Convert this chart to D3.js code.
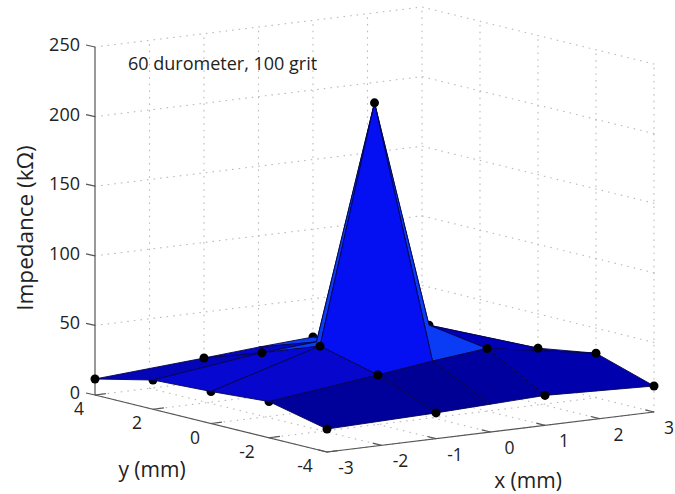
<!DOCTYPE html>
<html><head><meta charset="utf-8">
<script src="https://cdn.jsdelivr.net/npm/d3@7/dist/d3.min.js"></script>
<style>html,body{margin:0;padding:0;background:#fff}svg{display:block}text{font-family:"Open Sans",Lato,sans-serif;fill:#222}</style>
</head><body><svg id="c" width="675" height="494"></svg>
<script>
const xValues=[-3,-1,0,1,3];
const yValues=[4,2,0,-2,-4];
const zValues=[
 [11.5,17,20,22.5,21],
 [21,31,34,25,20],
 [23,46,216,51.5,25.4],
 [26,35.5,40.7,45,32],
 [16.5,18.5,20,21.5,18.7]];
// 0 = no marker, 1 = behind the surface, 2 = in front of it
const markerLayer=[
 [2,2,0,1,1],
 [1,2,0,1,1],
 [1,2,2,1,2],
 [1,2,0,2,2],
 [2,2,0,2,2]];
// rows from y=4 to y=-4, columns from x=-3 to x=3
const faceShades=[
 ["#0505b8","#0606c8","#0a3cf0","#0a48f4"],
 ["#0707d2","#0a3ef2","#0a44f2","#0a48f4"],
 ["#0606cc","#0510f2","#0a3cf6","#0000b8"],
 ["#00009a","#000094","#00009e","#0000ac"]];
const xTicks=[-3,-2,-1,0,1,2,3];
const yTicks=[4,2,0,-2,-4];
const zTicks=[0,50,100,150,200,250];
const labels={z:"Impedance (kΩ)",x:"x (mm)",y:"y (mm)",note:"60 durometer, 100 grit"};

const px=d3.scaleLinear().domain([-3,3]).range([0,327]);
const pxy=d3.scaleLinear().domain([-3,3]).range([0,-40]);
const py=d3.scaleLinear().domain([4,-4]).range([0,232]);
const pyy=d3.scaleLinear().domain([4,-4]).range([0,57]);
const pz=d3.scaleLinear().domain([0,250]).range([0,-348]);
const P=(x,y,z)=>[95+px(x)+py(y),395+pxy(x)+pyy(y)+pz(z)];
const svg=d3.select("#c");
const line=d3.line();
const path=pts=>svg.append("path").attr("d",line(pts)).attr("fill","none");
const grid=pts=>path(pts).attr("stroke","#bcbcbc").attr("stroke-width",1.2).attr("stroke-dasharray","0.6 6").attr("stroke-linecap","round");
zTicks.slice(1).forEach(z=>{grid([P(-3,4,z),P(3,4,z),P(3,-4,z)]);});
xTicks.slice(1).forEach(x=>grid([P(x,4,0),P(x,4,250)]));
yTicks.slice(1).forEach(y=>grid([P(3,y,0),P(3,y,250)]));
xTicks.forEach(x=>grid([P(x,-4,0),P(x,4,0)]));
yTicks.forEach(y=>grid([P(-3,y,0),P(3,y,0)]));
const ax=pts=>path(pts).attr("stroke","#555").attr("stroke-width",1.2);
ax([P(-3,4,0),P(-3,4,250)]);ax([P(-3,4,0),P(-3,-4,0)]);ax([P(-3,-4,0),P(3,-4,0)]);
const label=(x,y,t,size)=>svg.append("text").attr("x",x).attr("y",y).attr("text-anchor","middle").attr("dominant-baseline","central").attr("font-size",size).text(t);
zTicks.forEach(z=>{const a=P(-3,4,z);ax([a,[a[0]-9,a[1]-2]]);
 svg.append("text").attr("x",a[0]-15).attr("y",a[1]-3).attr("text-anchor","end").attr("dominant-baseline","central").attr("font-size",18).text(z);});
xTicks.forEach(x=>{const a=P(x,-4,0);ax([a,P(x,-3.7,0)]);
 label(a[0]+(x===3?15:19),a[1]+15,x,17.5);});
yTicks.forEach(y=>{const a=P(-3,y,0);ax([a,P(-2.8,y,0)]);
 label(a[0]-(y<0?22:16),a[1]+13,y,17.5);});
const dots=layer=>{const pts=[];zValues.forEach((r,j)=>r.forEach((z,i)=>{if(markerLayer[j][i]===layer)pts.push(P(xValues[i],yValues[j],z));}));
 svg.append("g").selectAll("circle").data(pts).join("circle").attr("cx",d=>d[0]).attr("cy",d=>d[1]).attr("r",4.5).attr("fill","#000");};
dots(1);
const faces=[];
for(let i=3;i>=0;i--)for(let j=0;j<4;j++)faces.push([i,j]);
svg.append("g").selectAll("path").data(faces).join("path")
 .attr("d",([i,j])=>line([[i,j],[i+1,j],[i+1,j+1],[i,j+1]].map(([a,b])=>P(xValues[a],yValues[b],zValues[b][a])))+"Z")
 .attr("fill",([i,j])=>faceShades[j][i]).attr("stroke","#04044e").attr("stroke-width",0.9).attr("stroke-linejoin","round");
dots(2);
svg.append("text").attr("x",24).attr("y",228).attr("transform","rotate(-90 24 228)").attr("text-anchor","middle").attr("dominant-baseline","central").attr("font-size",22.5).text(labels.z);
label(152,469,labels.y,21);
label(528,480,labels.x,21);
svg.append("text").attr("x",128).attr("y",63).attr("dominant-baseline","central").attr("font-size",18).text(labels.note);
</script></body></html>
